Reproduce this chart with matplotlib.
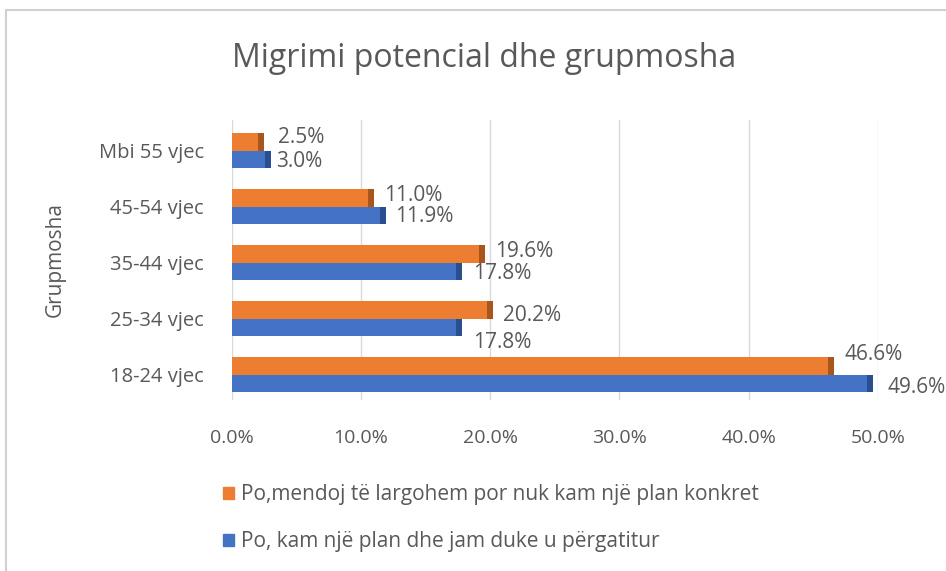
import matplotlib.pyplot as plt
import numpy as np
from matplotlib.patches import Rectangle, Patch

categories = ["18-24 vjec", "25-34 vjec", "35-44 vjec", "45-54 vjec", "Mbi 55 vjec"]
series_names = ["Po,mendoj të largohem por nuk kam një plan konkret",
                "Po, kam një plan dhe jam duke u përgatitur"]
orange_vals = [46.6, 20.2, 19.6, 11.0, 2.5]
blue_vals = [49.6, 17.8, 17.8, 11.9, 3.0]
xticks = [0, 10, 20, 30, 40, 50]
title = "Migrimi potencial dhe grupmosha"
ylabel = "Grupmosha"

# label placement tweaks (pixels), style only
orange_dy = [11, -6, 2, 2, 5]
blue_dy = [-4, -15, -2, -1, -2]
orange_dx = [11, 10, 10, 10, 14]
blue_dx = [15, 11, 11, 10, 6]

plt.rcParams['font.family'] = ['Open Sans', 'DejaVu Sans']
ORANGE = "#ED7D31"
ORANGE_D = "#A9561C"
BLUE = "#4472C4"
BLUE_D = "#2A4F91"
TXT = "#595959"

fig = plt.figure(figsize=(9.46, 5.71), dpi=100)
fig.patches.append(Rectangle((0.006, -0.01), 1.0, 0.993, transform=fig.transFigure,
                             fill=False, edgecolor="#d0d0d0", linewidth=1.5))
ax = fig.add_axes([0.245, 0.30, 0.683, 0.49])

y = np.arange(len(categories))
h = 0.31
ax.barh(y + h / 2, orange_vals, height=h, color=ORANGE, zorder=3)
ax.barh(y - h / 2, blue_vals, height=h, color=BLUE, zorder=3)
cap = 0.45
ax.barh(y + h / 2, [cap] * len(y), left=np.array(orange_vals) - cap, height=h, color=ORANGE_D, zorder=4)
ax.barh(y - h / 2, [cap] * len(y), left=np.array(blue_vals) - cap, height=h, color=BLUE_D, zorder=4)

for yi, v, dx, dy in zip(y, orange_vals, orange_dx, orange_dy):
    ax.annotate(f"{v:.1f}%", (v, yi + h / 2), xytext=(dx, dy), textcoords="offset pixels",
                va="center", ha="left", fontsize=15, color=TXT, zorder=5)
for yi, v, dx, dy in zip(y, blue_vals, blue_dx, blue_dy):
    ax.annotate(f"{v:.1f}%", (v, yi - h / 2), xytext=(dx, dy), textcoords="offset pixels",
                va="center", ha="left", fontsize=15, color=TXT, zorder=5)

ax.set_xlim(0, 50)
ax.set_ylim(-0.45, 4.55)
ax.set_xticks(xticks)
ax.set_xticklabels([f"{t:.1f}%" for t in xticks], fontsize=14, color=TXT)
ax.set_yticks(y)
ax.set_yticklabels(categories, fontsize=14.5, color=TXT)
ax.tick_params(axis="both", length=0)
ax.tick_params(axis="x", pad=21)
ax.tick_params(axis="y", pad=20)
ax.grid(axis="x", color="#d9d9d9", linewidth=1, zorder=0)
for s in ax.spines.values():
    s.set_visible(False)
ax.set_ylabel(ylabel, fontsize=15, color=TXT, labelpad=24)

fig.text(0.512, 0.897, title, ha="center", va="center", fontsize=23, color=TXT)

handles = [Patch(color=ORANGE), Patch(color=BLUE)]
fig.legend(handles, series_names, loc="upper left", bbox_to_anchor=(0.216, 0.185),
           frameon=False, fontsize=15, labelcolor=TXT, handlelength=0.5, handleheight=0.5,
           handletextpad=0.35, labelspacing=1.25)

fig.savefig("out.png", dpi=100, facecolor="white")
